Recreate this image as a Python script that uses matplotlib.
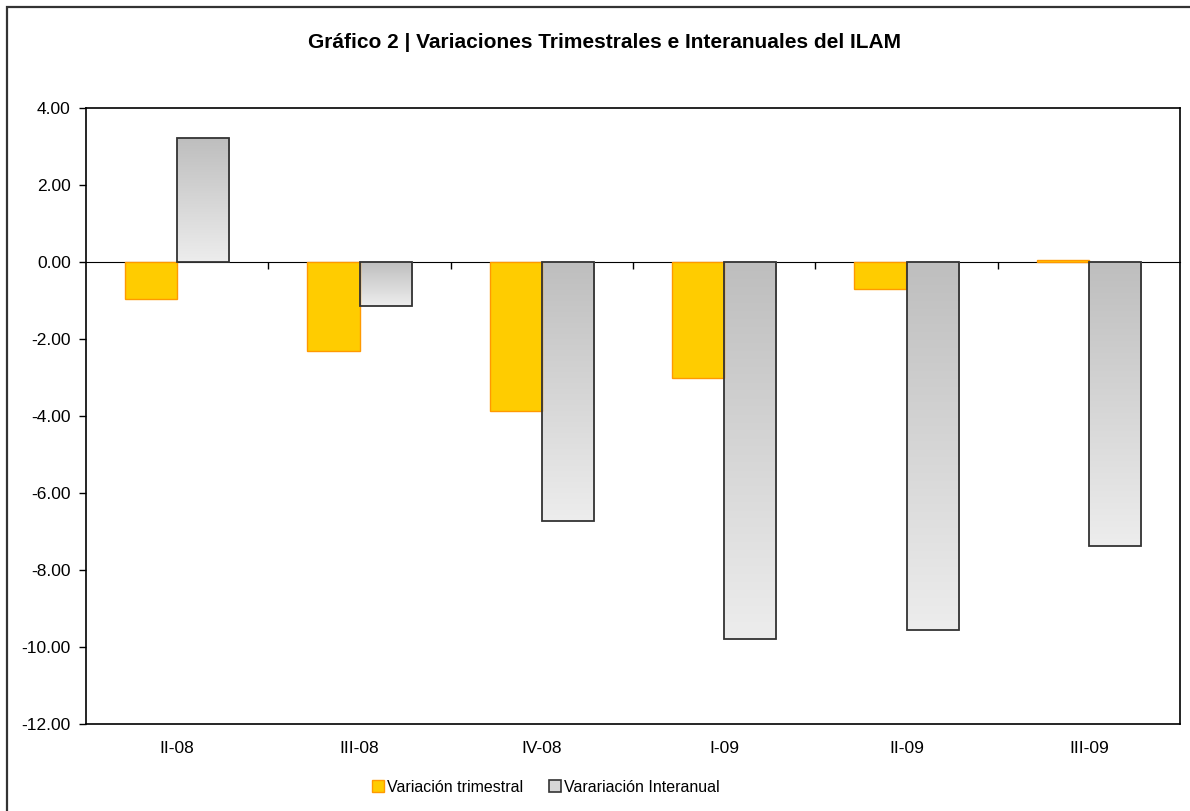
"""
Gráfico 2: variaciones trimestrales e interanuales del ILAM.
"""

import numpy as np
import matplotlib as mpl
import matplotlib.pyplot as plt
from matplotlib.colors import LinearSegmentedColormap

periodos = ['II-08', 'III-08', 'IV-08', 'I-09', 'II-09', 'III-09']
var_trimestral = [-0.97, -2.30, -3.86, -3.00, -0.71, 0.04]
var_interanual = [3.22, -1.15, -6.72, -9.79, -9.56, -7.37]
y_ticks = [4, 2, 0, -2, -4, -6, -8, -10, -12]

plt.rcParams['font.family'] = ['Liberation Sans', 'DejaVu Sans']


def gradient_bars(ax, bars, cmap):
    """Fill each bar with a vertical gradient, darker at the top."""
    grad = np.linspace(0, 1, 256).reshape(-1, 1)
    for bar in bars:
        x0, y0 = bar.get_x(), bar.get_y()
        w, h = bar.get_width(), bar.get_height()
        ybot, ytop = min(y0, y0 + h), max(y0, y0 + h)
        im = ax.imshow(grad, cmap=cmap, aspect='auto', origin='upper',
                       extent=(x0, x0 + w, ybot, ytop), zorder=2)
        im.set_clip_path(bar)


def main():
    fig = plt.figure(figsize=(11.9, 8.11), dpi=100)
    # outer frame of the chart (only top and left visible)
    fig.add_artist(mpl.patches.Rectangle(
        (7 / 1190, -0.1), 1.2, 1 - 7 / 811 + 0.1, transform=fig.transFigure,
        facecolor='none', edgecolor='#333333', lw=1.6))

    ax = fig.add_axes([86 / 1190, 1 - 724 / 811,
                       (1180 - 86) / 1190, (724 - 108) / 811])
    x = np.arange(len(periodos))
    w = 0.286

    ax.bar(x - w / 2, var_trimestral, w, color='#FFCC00',
           edgecolor='#FF9900', linewidth=1.0, zorder=3,
           label='Variación trimestral')
    bars = ax.bar(x + w / 2, var_interanual, w, color='none',
                  edgecolor='#333333', linewidth=1.3, zorder=3,
                  label='Varariación Interanual')
    cmap = LinearSegmentedColormap.from_list('gris', ['#bebebe', '#ededed'])
    gradient_bars(ax, bars, cmap)

    ax.set_xlim(-0.5, len(periodos) - 0.5)
    ax.set_ylim(-12, 4)
    ax.set_yticks(y_ticks)
    ax.set_yticklabels([f'{v:.2f}' for v in y_ticks])
    ax.set_xticks(x)
    ax.set_xticklabels(periodos)
    ax.tick_params(axis='x', length=0, pad=12, labelsize=12.5)
    ax.tick_params(axis='y', length=5, width=1, pad=6, labelsize=12.5,
                   direction='out')
    for sp in ax.spines.values():
        sp.set_linewidth(1.2)
        sp.set_color('black')

    # category axis crossing at zero, with tick marks between categories
    zero_pos = (0 - (-12)) / 16
    sec = ax.secondary_xaxis(zero_pos)
    sec.set_xticks(x[:-1] + 0.5)
    sec.set_xticklabels([])
    sec.tick_params(axis='x', direction='in', length=5, width=1)
    sec.spines['bottom'].set_linewidth(1.2)

    fig.text(604 / 1190, 1 - 43 / 811,
             'Gráfico 2 | Variaciones Trimestrales e Interanuales del ILAM',
             ha='center', va='center', fontsize=15, fontweight='bold')

    h, l = ax.get_legend_handles_labels()
    h[1] = mpl.patches.Patch(facecolor='#d6d6d6', edgecolor='#333333', lw=1.2)
    fig.legend(h, l, loc='center', bbox_to_anchor=(546 / 1190, 1 - 787 / 811),
               ncol=2, frameon=False, fontsize=11.5, handlelength=0.75,
               handleheight=0.75, handletextpad=0.2, columnspacing=1.6)

    fig.savefig('out.png', dpi=100)
    plt.close('all')


if __name__ == '__main__':
    main()
